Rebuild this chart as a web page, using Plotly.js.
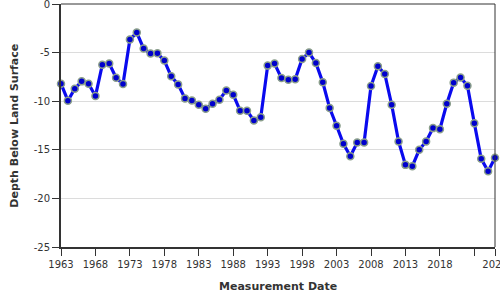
<!DOCTYPE html>
<html>
<head>
<meta charset="utf-8">
<script src="https://cdn.plot.ly/plotly-3.0.1.min.js"></script>
<style>
html,body{margin:0;padding:0;background:#fff;}
#chart{width:500px;height:300px;}
</style>
</head>
<body>
<div id="chart"></div>
<script>
var years = [1963,1964,1965,1966,1967,1968,1969,1970,1971,1972,1973,1974,1975,1976,1977,1978,1979,1980,1981,1982,1983,1984,1985,1986,1987,1988,1989,1990,1991,1992,1993,1994,1995,1996,1997,1998,1999,2000,2001,2002,2003,2004,2005,2006,2007,2008,2009,2010,2011,2012,2013,2014,2015,2016,2017,2018,2019,2020,2021,2022,2023,2024,2025,2026];
var depth = [-8.2,-9.95,-8.71,-7.96,-8.2,-9.47,-6.24,-6.13,-7.58,-8.24,-3.66,-2.94,-4.59,-5.1,-5.07,-5.82,-7.44,-8.27,-9.71,-9.92,-10.36,-10.77,-10.26,-9.85,-8.89,-9.33,-10.98,-10.98,-11.98,-11.64,-6.34,-6.13,-7.62,-7.79,-7.75,-5.66,-5.0,-6.07,-8.06,-10.71,-12.53,-14.38,-15.66,-14.25,-14.25,-8.44,-6.41,-7.2,-10.36,-14.14,-16.55,-16.69,-15.0,-14.14,-12.77,-12.88,-10.26,-8.09,-7.55,-8.4,-12.26,-15.93,-17.2,-15.82];
var xTickVals = [1963,1968,1973,1978,1983,1988,1993,1998,2003,2008,2013,2018,2023,2026];
var xTickText = ["1963","1968","1973","1978","1983","1988","1993","1998","2003","2008","2013","2018","","2026"];
var yTickVals = [0,-5,-10,-15,-20,-25];
var yTickText = ["0","-5","-10","-15","-20","-25"];
var xTitle = "Measurement Date";
var yTitle = "Depth Below Land Surface";

var trace = {
  x: years, y: depth, type: 'scatter', mode: 'lines+markers',
  line: {color: '#0a0aee', width: 3.2},
  marker: {color: '#0000cc', size: 7, line: {color: '#8a9e8a', width: 1.5}},
  cliponaxis: false, hoverinfo: 'none'
};
var font = {family: 'DejaVu Sans, sans-serif', size: 10, color: '#333'};
var layout = {
  width: 500, height: 300,
  margin: {l: 61, r: 4.5, t: 4, b: 53, pad: 0},
  paper_bgcolor: '#fff', plot_bgcolor: '#fff',
  showlegend: false,
  font: font,
  xaxis: {
    range: [1963, 2026], tickmode: 'array', tickvals: xTickVals, ticktext: xTickText,
    showgrid: false, zeroline: false, showline: true, linecolor: '#333', linewidth: 2,
    ticks: 'outside', ticklen: 7, tickwidth: 1, tickcolor: '#333', automargin: false,
    ticklabeloverflow: 'allow', tickfont: font, fixedrange: true
  },
  yaxis: {
    range: [-25, 0], tickmode: 'array', tickvals: yTickVals, ticktext: yTickText,
    showgrid: true, gridcolor: '#dcdcdc', gridwidth: 1, zeroline: false,
    showline: true, linecolor: '#333', linewidth: 2,
    ticks: 'outside', ticklen: 7, tickwidth: 1, tickcolor: '#333', automargin: false,
    ticklabeloverflow: 'allow', tickfont: font, fixedrange: true
  },
  shapes: [
    {type: 'line', xref: 'paper', yref: 'paper', x0: 0, x1: 1, y0: 1, y1: 1, line: {color: '#333', width: 1}},
    {type: 'line', xref: 'paper', yref: 'paper', x0: 1, x1: 1, y0: 0, y1: 1, line: {color: '#333', width: 1}}
  ],
  annotations: [
    {text: '<b>' + xTitle + '</b>', xref: 'paper', yref: 'paper', x: 0.5, y: -0.1646, xanchor: 'center', yanchor: 'middle', showarrow: false, font: {family: 'DejaVu Sans, sans-serif', size: 11, color: '#333'}},
    {text: '<b>' + yTitle + '</b>', xref: 'paper', yref: 'paper', x: -0.108, y: 0.5, xanchor: 'center', yanchor: 'middle', textangle: -90, showarrow: false, font: {family: 'DejaVu Sans, sans-serif', size: 11, color: '#333'}}
  ]
};
Plotly.newPlot('chart', [trace], layout, {displayModeBar: false, staticPlot: true});
</script>
</body>
</html>
